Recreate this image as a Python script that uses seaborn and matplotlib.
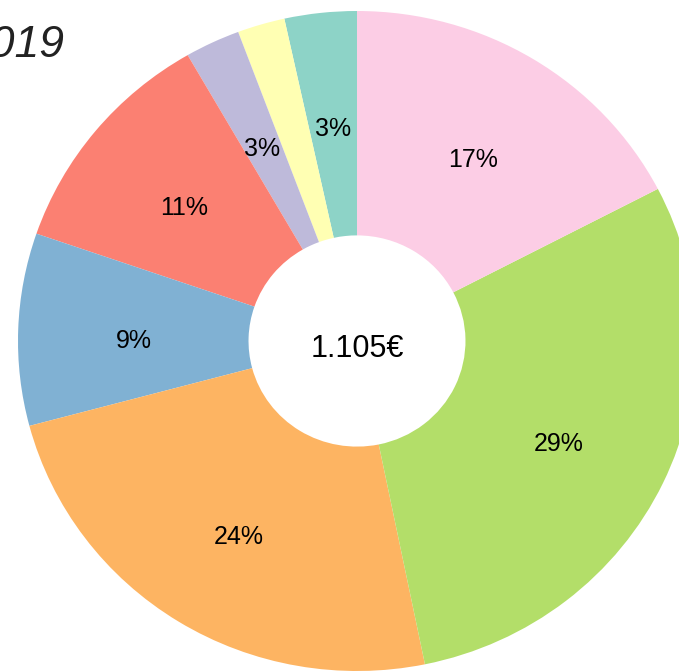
import numpy as np
import matplotlib
matplotlib.use("Agg")
import matplotlib.pyplot as plt
import seaborn as sns

# Ausgaben 2019 (EUR), counterclockwise from 12 o'clock
categories = ["A", "B", "C", "D", "E", "F", "G", "H"]
values = [38, 25, 29, 126, 104, 266, 325, 192]
total_label = "1.105€"
title = "2019"

sns.set_theme(style="white")
plt.rcParams['font.family'] = ['Liberation Sans', 'DejaVu Sans']

colors = sns.color_palette("Set3", len(values))


def pct_label(p):
    return f"{p:.0f}%" if p >= 2.5 else ""


fig = plt.figure(figsize=(6.79, 6.72), dpi=100)
ax = fig.add_axes([0, 0, 1, 1])

wedges, texts, autotexts = ax.pie(
    values, colors=colors, startangle=90, counterclock=True,
    autopct=pct_label, pctdistance=0.66,
    wedgeprops=dict(width=0.68, linewidth=0),
    textprops=dict(fontsize=18, color="black"),
)

# labels sit a little lower in the original
for t in autotexts:
    x, y = t.get_position()
    t.set_position((x, y * 1.015 - 8 / 330))

ax.text(0, -8 / 330, total_label, ha="center", va="center", fontsize=22, color="black")

# pie is slightly stretched and cropped in the original
ax.set_aspect("auto")
ax.set_xlim(-357 / 339, 322 / 339)
ax.set_ylim(-331 / 330, 341 / 330)
ax.axis("off")

fig.text(64 / 679, 1 - 57 / 672, title, ha="right", va="baseline",
         style="italic", fontsize=32, color="#222222")

fig.savefig("out.png", dpi=100)
